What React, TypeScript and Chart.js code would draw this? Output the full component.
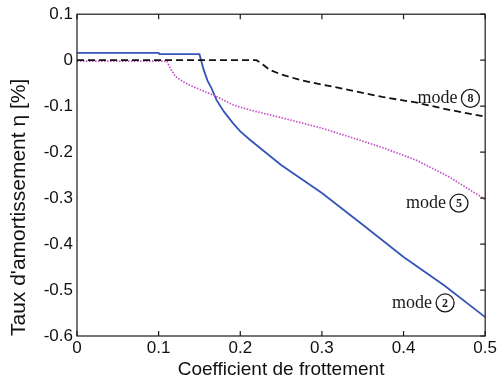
import React, { useEffect, useRef } from 'react';
import { Chart, registerables } from 'chart.js';

Chart.register(...registerables);

// Tick values and labels
const xTickValues = [0, 0.1, 0.2, 0.3, 0.4, 0.5];
const xTickLabels = ['0', '0.1', '0.2', '0.3', '0.4', '0.5'];
const yTickValues = [0.1, 0, -0.1, -0.2, -0.3, -0.4, -0.5, -0.6];
const yTickLabels = ['0.1', '0', '-0.1', '-0.2', '-0.3', '-0.4', '-0.5', '-0.6'];

// Mode 2 (blue solid)
const mode2X = [0, 0.1, 0.101, 0.15, 0.155, 0.16, 0.165, 0.171, 0.18, 0.191, 0.2, 0.211, 0.25, 0.3, 0.35, 0.4, 0.45, 0.5];
const mode2Y = [0.016, 0.016, 0.013, 0.013, -0.02, -0.045, -0.062, -0.087, -0.112, -0.137, -0.155, -0.172, -0.228, -0.289, -0.358, -0.428, -0.49, -0.559];

// Mode 5 (magenta dotted)
const mode5X = [0, 0.11, 0.115, 0.12, 0.13, 0.14, 0.167, 0.191, 0.211, 0.25, 0.3, 0.334, 0.374, 0.415, 0.456, 0.5];
const mode5Y = [-0.002, -0.002, -0.02, -0.034, -0.047, -0.056, -0.076, -0.097, -0.108, -0.125, -0.148, -0.167, -0.19, -0.217, -0.254, -0.303];

// Mode 8 (black dashed)
const mode8X = [0, 0.22, 0.228, 0.236, 0.25, 0.273, 0.3, 0.334, 0.374, 0.415, 0.456, 0.5];
const mode8Y = [0, 0, -0.01, -0.021, -0.031, -0.043, -0.053, -0.065, -0.08, -0.092, -0.108, -0.123];

// Curve annotations (data coordinates of label text start / baseline)
const labelTexts = ['mode', 'mode', 'mode'];
const labelDigits = ['8', '5', '2'];
const labelX = [0.417, 0.403, 0.386];
const labelY = [-0.094, -0.322, -0.539];

const xTitle = 'Coefficient de frottement';
const yTitle = "Taux d'amortissement \u03B7 [%]";

const toPoints = (xs: number[], ys: number[]) => xs.map((x, i) => ({ x, y: ys[i] }));

const framePlugin = {
  id: 'frameTicks',
  afterDatasetsDraw(chart: any) {
    const { ctx, chartArea: a, scales } = chart;
    ctx.save();
    ctx.strokeStyle = '#1a1a1a';
    ctx.lineWidth = 1.2;
    ctx.strokeRect(a.left, a.top, a.right - a.left, a.bottom - a.top);
    const tl = 5;
    ctx.beginPath();
    xTickValues.forEach((v) => {
      const px = scales.x.getPixelForValue(v);
      ctx.moveTo(px, a.bottom);
      ctx.lineTo(px, a.bottom - tl);
      ctx.moveTo(px, a.top);
      ctx.lineTo(px, a.top + tl);
    });
    yTickValues.forEach((v) => {
      const py = scales.y.getPixelForValue(v);
      ctx.moveTo(a.right, py);
      ctx.lineTo(a.right - tl, py);
    });
    ctx.stroke();

    // annotations
    labelTexts.forEach((t, i) => {
      const px = scales.x.getPixelForValue(labelX[i]);
      const py = scales.y.getPixelForValue(labelY[i]);
      ctx.font = '18px "Liberation Serif", serif';
      ctx.fillStyle = '#1a1a1a';
      ctx.textAlign = 'left';
      ctx.textBaseline = 'alphabetic';
      ctx.fillText(t, px, py);
      const w = ctx.measureText(t).width;
      const r = 9;
      const cx = px + w + 4 + r;
      const cy = py - 5;
      ctx.beginPath();
      ctx.arc(cx, cy, r, 0, Math.PI * 2);
      ctx.lineWidth = 1.3;
      ctx.stroke();
      ctx.font = 'bold 12px "Liberation Serif", serif';
      ctx.textAlign = 'center';
      ctx.textBaseline = 'middle';
      ctx.fillText(labelDigits[i], cx, cy + 1);
    });
    ctx.restore();
  },
};

export default function App() {
  const ref = useRef<HTMLCanvasElement | null>(null);
  useEffect(() => {
    if (!ref.current) return;
    const chart = new Chart(ref.current, {
      type: 'line',
      data: {
        datasets: [
          {
            label: 'mode 8',
            data: toPoints(mode8X, mode8Y),
            borderColor: '#111111',
            borderWidth: 1.8,
            borderDash: [7, 4],
            pointRadius: 0,
            tension: 0,
          },
          {
            label: 'mode 5',
            data: toPoints(mode5X, mode5Y),
            borderColor: '#c24fc6',
            borderWidth: 1.7,
            borderDash: [1.5, 1.5],
            pointRadius: 0,
            tension: 0,
          },
          {
            label: 'mode 2',
            data: toPoints(mode2X, mode2Y),
            borderColor: '#3556b8',
            borderWidth: 1.8,
            pointRadius: 0,
            tension: 0,
          },
        ],
      },
      options: {
        responsive: false,
        animation: false,
        layout: { padding: { left: 0, right: 13, top: 14, bottom: 0 } },
        plugins: { legend: { display: false }, tooltip: { enabled: false } },
        scales: {
          x: {
            type: 'linear',
            min: 0,
            max: 0.5,
            grid: { display: false, drawTicks: false },
            border: { display: false },
            afterBuildTicks: (s: any) => {
              s.ticks = xTickValues.map((v) => ({ value: v }));
            },
            afterFit: (s: any) => {
              s.height = 46;
            },
            ticks: {
              padding: 2,
              color: '#111',
              font: { family: '"Liberation Sans", Arial, sans-serif', size: 17 },
              maxRotation: 0,
              callback: (_v: any, i: number) => xTickLabels[i],
            },
            title: {
              display: true,
              text: xTitle,
              color: '#111',
              font: { family: '"Liberation Sans", Arial, sans-serif', size: 19 },
              padding: { top: 0, bottom: 1 },
            },
          },
          y: {
            type: 'linear',
            min: -0.6,
            max: 0.1,
            grid: { display: false, drawTicks: false },
            border: { display: false },
            afterBuildTicks: (s: any) => {
              s.ticks = yTickValues.map((v) => ({ value: v }));
            },
            afterFit: (s: any) => {
              s.width = 77;
            },
            ticks: {
              padding: 4,
              color: '#111',
              font: { family: '"Liberation Sans", Arial, sans-serif', size: 17 },
              callback: (_v: any, i: number) => yTickLabels[i],
            },
            title: {
              display: true,
              text: yTitle,
              align: 'start',
              color: '#111',
              font: { family: '"Liberation Sans", Arial, sans-serif', size: 21 },
              padding: { top: 7, bottom: 0 },
            },
          },
        },
      },
      plugins: [framePlugin],
    } as any);
    return () => chart.destroy();
  }, []);
  return (
    <div style={{ position: 'absolute', left: 0, top: 0, width: 499, height: 382, background: '#fff' }}>
      <canvas ref={ref} width={499} height={382} />
    </div>
  );
}
